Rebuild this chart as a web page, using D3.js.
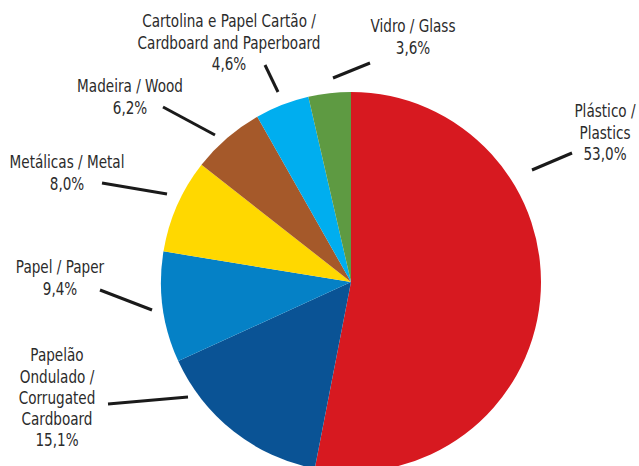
<!DOCTYPE html>
<html>
<head>
<meta charset="utf-8">
<script src="https://cdn.jsdelivr.net/npm/d3@7"></script>
<style>
  html, body { margin: 0; padding: 0; background: #fff; }
  svg { display: block; }
  text { font-family: "DejaVu Sans Condensed", "Liberation Sans Narrow", sans-serif; fill: #2b2b2b; }
</style>
</head>
<body>
<svg id="chart" width="639" height="466"></svg>
<script>
// Packaging waste by material (share of total, %)
const categories = [
  "Plástico / Plastics",
  "Papelão Ondulado / Corrugated Cardboard",
  "Papel / Paper",
  "Metálicas / Metal",
  "Madeira / Wood",
  "Cartolina e Papel Cartão / Cardboard and Paperboard",
  "Vidro / Glass"
];
const values = [53.0, 15.1, 9.4, 8.0, 6.2, 4.6, 3.6];
const colors = ["#d71920", "#0a5395", "#0581c6", "#ffd800", "#a5592a", "#00aeef", "#5e9a42"];
// label text lines per slice (value line appended from values)
const labelLines = [
  ["Plástico /", "Plastics"],
  ["Papelão", "Ondulado /", "Corrugated", "Cardboard"],
  ["Papel / Paper"],
  ["Metálicas / Metal"],
  ["Madeira / Wood"],
  ["Cartolina e Papel Cartão /", "Cardboard and Paperboard"],
  ["Vidro / Glass"]
];

const svg = d3.select("#chart");
const cx = 351, cy = 282, r = 190;

const pie = d3.pie().sort(null).value(d => d)(values);
const arc = d3.arc().innerRadius(0).outerRadius(r);

const g = svg.append("g").attr("transform", `translate(${cx},${cy})`);
g.selectAll("path")
  .data(pie)
  .join("path")
  .attr("d", arc)
  .attr("fill", (d, i) => colors[i]);

// label layout: text centre x, first line centre y, leader line x1,y1,x2,y2
const layout = [
  { x: 605, y: 111, l: [532, 170, 572, 153] },
  { x: 57,  y: 355, l: [108, 404, 188, 397] },
  { x: 60,  y: 267, l: [100, 290, 152, 310] },
  { x: 67,  y: 162, l: [102, 183, 167, 194] },
  { x: 130, y: 86,  l: [163, 107, 215, 135] },
  { x: 229, y: 21,  l: [265, 65, 278, 92] },
  { x: 413, y: 26,  l: [333, 78, 370, 63] }
];
const lineH = 21.3;
const fmt = v => d3.format(".1f")(v).replace(".", ",") + "%";

layout.forEach((p, i) => {
  svg.append("line")
    .attr("x1", p.l[0]).attr("y1", p.l[1])
    .attr("x2", p.l[2]).attr("y2", p.l[3])
    .attr("stroke", "#1a1a1a").attr("stroke-width", 3);
  const lines = labelLines[i].concat([fmt(values[i])]);
  const t = svg.append("text")
    .attr("transform", `translate(${p.x},0) scale(0.84,1)`)
    .attr("text-anchor", "middle")
    .attr("font-size", 18);
  lines.forEach((s, k) => {
    t.append("tspan")
      .attr("x", 0)
      .attr("y", p.y + k * lineH)
      .attr("dy", "0.35em")
      .text(s);
  });
});
</script>
</body>
</html>
